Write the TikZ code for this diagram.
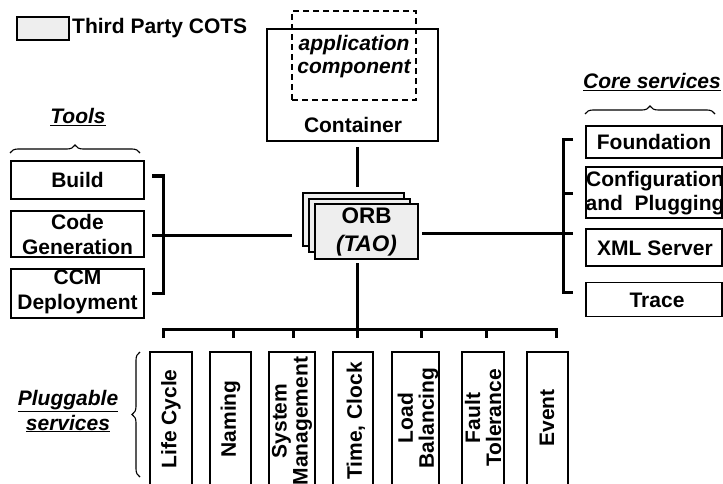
\documentclass[tikz,border=0pt]{standalone}
\usepackage{fontspec}
\setmainfont{Liberation Sans}
\usetikzlibrary{decorations.pathreplacing,calc}
\begin{document}
\begin{tikzpicture}[x=1pt,y=-1pt,
  txt/.style={inner sep=0pt, align=center, font=\fontsize{21}{22}\selectfont\bfseries},
  box/.style={draw, line width=1.4pt, inner sep=0pt},
  cots/.style={draw, line width=1.4pt, fill=gray!13, inner sep=0pt},
  conn/.style={line width=3pt},
  brc/.style={line width=1.1pt, decorate, decoration={brace, amplitude=8pt}},
  vtxt/.style={txt, rotate=90, align=center}
]
\useasboundingbox (0,0) rectangle (723,484);
\clip (0,0) rectangle (723,484);

% legend
\node[cots, minimum width=52pt, minimum height=23pt] (leg) at (43,28.5) {};
\node[txt, anchor=west] (legt) at (72,28.5) {Third Party COTS};

% container
\node[box, minimum width=171pt, minimum height=112pt] (cont) at (352.5,85) {};
\node[draw, dashed, dash pattern=on 6pt off 4pt, line width=1.8pt, inner sep=0pt,
      minimum width=124pt, minimum height=89pt] (app) at (354,55.5) {};
\node[txt, font=\fontsize{21}{23}\selectfont\bfseries\itshape] (appt) at (354,57) {application\\component};
\node[txt] (contt) at (353,125) {Container};

% ORB
\node[cots, minimum width=101pt, minimum height=53pt] (orb1) at (353.5,219.5) {};
\node[cots, minimum width=101pt, minimum height=53pt] (orb2) at (359.5,225.5) {};
\node[cots, minimum width=103pt, minimum height=55pt] (orb3) at (366.5,231.5) {};
\node[txt, font=\fontsize{22.5}{28}\selectfont\bfseries] (orbt) at (366.5,232) {ORB\\\textit{(TAO)}};

% Tools
\node[txt, font=\fontsize{21}{22}\selectfont\bfseries\itshape] (toolsl) at (78,117) {\underline{Tools}};
\draw[brc] (10,153) -- (140,153);
\node[box, minimum width=133pt, minimum height=38pt] (build) at (77.5,180) {};
\node[txt] at (build) {Build};
\node[box, minimum width=133pt, minimum height=46pt] (codegen) at (77.5,234) {};
\node[txt, font=\fontsize{21}{25}\selectfont\bfseries] at (codegen) {Code\\Generation};
\node[box, minimum width=133pt, minimum height=49pt] (ccm) at (77.5,293.5) {};
\node[txt, font=\fontsize{21}{25}\selectfont\bfseries] at (77.5,292) {CCM\\Deployment};

% Core services
\node[txt, font=\fontsize{21}{22}\selectfont\bfseries\itshape] (corel) at (652,82) {\underline{Core services}};
\draw[brc] (585,114) -- (715,114);
\node[box, minimum width=136pt, minimum height=32pt] (found) at (654,142) {};
\node[txt] at (found) {Foundation};
\node[box, minimum width=136pt, minimum height=51pt] (config) at (654,192.5) {};
\node[txt, font=\fontsize{21}{24}\selectfont\bfseries] at (655,193) {Configuration\\and~ Plugging};
\node[box, minimum width=136pt, minimum height=37pt] (xml) at (654,247.5) {};
\node[txt] at (655,248) {XML Server};
\node[box, minimum width=136pt, minimum height=34pt] (trace) at (654,299.5) {};
\node[txt] at (657,300) {Trace};

% Pluggable services
\node[txt, font=\fontsize{21}{25}\selectfont\bfseries\itshape] (plugl) at (68,411) {\underline{Pluggable}\\\underline{services}};
\draw[brc] (140,477) -- (140,352);

\foreach \n/\l/\r in {lc/150/192, nm/210/251, sm/269/315, tc/333/373, lb/392/439, ft/462/504, ev/527/568}{
  \draw[line width=1.4pt] (\l,520) -- (\l,352) -- (\r,352) -- (\r,520);
}
\node[vtxt] (lct) at (171,419) {Life Cycle};
\node[vtxt] (nmt) at (230.5,419) {Naming};
\node[vtxt, font=\fontsize{21}{21}\selectfont\bfseries] (smt) at (292,421) {System\\Management};
\node[vtxt] (tct) at (356,421) {Time, Clock};
\node[vtxt, font=\fontsize{21}{21}\selectfont\bfseries] (lbt) at (418,418) {Load\\Balancing};
\node[vtxt, font=\fontsize{21}{21}\selectfont\bfseries] (ftt) at (483,418) {Fault\\Tolerance};
\node[vtxt] (evt) at (547,418) {Event};

% connector coordinates
\coordinate (c1) at (357,147);
\coordinate (c2) at (357,187);
\coordinate (l0) at (292,235);
\coordinate (l1) at (152,235);
\coordinate (lt) at (163,176);
\coordinate (lb) at (163,293);
\coordinate (r0) at (422,233);
\coordinate (r1) at (573,233);
\coordinate (rt) at (563,140);
\coordinate (rb) at (563,292);
\coordinate (b0) at (357,263);
\coordinate (b1) at (357,338);
\coordinate (hl) at (163,329);
\coordinate (hr) at (556,329);

\draw[conn] (c1) -- (c2);
\draw[conn] (l0) -- (l1);
\draw[conn] (152,176) -- (lt) -- (lb) -- (152,293);
\draw[conn] (r0) -- (r1);
\draw[conn] (573,140) -- (rt) -- (rb) -- (573,292);
\draw[conn] (563,193) -- (573,193);
\draw[conn] (b0) -- (b1);
\draw[conn] (163,338) -- (hl) -- (hr) -- (556,338);
\foreach \x in {233,293,421,486}{ \draw[conn] (\x,329) -- (\x,338); }
\end{tikzpicture}
\end{document}
